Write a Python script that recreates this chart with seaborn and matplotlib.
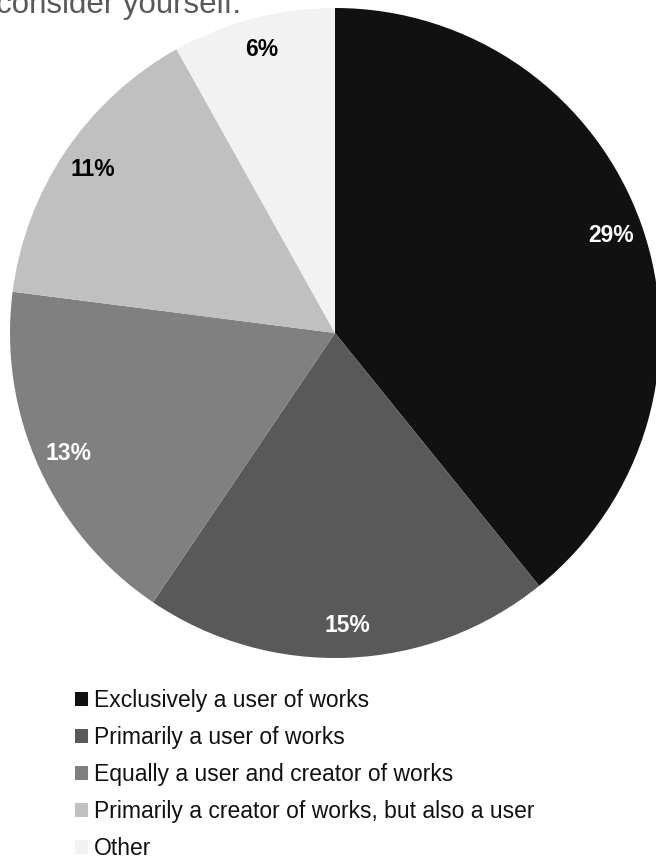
import matplotlib
matplotlib.use("Agg")
import matplotlib.pyplot as plt
import seaborn as sns
import numpy as np

categories = [
    "Exclusively a user of works",
    "Primarily a user of works",
    "Equally a user and creator of works",
    "Primarily a creator of works, but also a user",
    "Other",
]
values = [29, 15, 13, 11, 6]
labels_pct = ["29%", "15%", "13%", "11%", "6%"]
colors = ["#111111", "#595959", "#808080", "#c0c0c0", "#f2f2f2"]
label_colors = ["white", "white", "white", "black", "black"]

sns.set_theme(style="white")
plt.rcParams['font.family'] = ['Liberation Sans', 'DejaVu Sans']

fig = plt.figure(figsize=(6.56, 8.6), dpi=100)
# pie axes: center (335, 333) px, radius 325 px
r = 325
ax = fig.add_axes([(335 - r) / 656, (860 - 333 - r) / 860, 2 * r / 656, 2 * r / 860])
wedges, _ = ax.pie(values, colors=colors, startangle=90, counterclock=False,
                   radius=1, wedgeprops=dict(linewidth=0))
ax.set_xlim(-1, 1)
ax.set_ylim(-1, 1)
ax.set_aspect('equal')
ax.axis('off')

for w, lab, c in zip(wedges, labels_pct, label_colors):
    ang = np.deg2rad((w.theta1 + w.theta2) / 2)
    d = 0.9
    ax.text(d * np.cos(ang), d * np.sin(ang), lab, ha='center', va='center',
            color=c, fontsize=16.5, fontweight='bold')

fig.text(-0.006, 1 - 13 / 860, "consider yourself.", fontsize=22.5, color="#595959",
         ha='left', va='baseline')

leg = fig.legend(wedges, categories, loc='upper left',
                 bbox_to_anchor=(75 / 656, 1 - 689 / 860), frameon=False,
                 fontsize=16.5, handlelength=0.58, handleheight=0.58,
                 handletextpad=0.26, labelspacing=0.61, borderaxespad=0,
                 borderpad=0)
for t in leg.get_texts():
    t.set_color("#111111")

fig.savefig("out.png", dpi=100, facecolor='white')
